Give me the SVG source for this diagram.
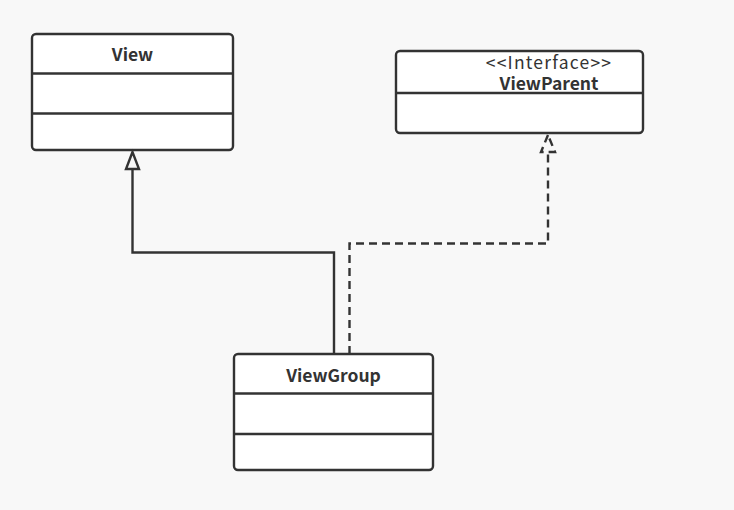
<svg xmlns="http://www.w3.org/2000/svg" width="734" height="510" viewBox="0 0 734 510">
<style>
.box{fill:#fff;stroke:#333;stroke-width:2.4}
.div{stroke:#333;stroke-width:2.4;fill:none}
.t{font-family:"Noto Sans CJK SC","Open Sans",sans-serif;font-size:17.5px;fill:#333;text-anchor:middle}
.b{font-weight:bold}
.c{stroke:#333;stroke-width:2.4;fill:none}
.d{stroke-dasharray:8 5}
</style>
<rect width="734" height="510" fill="#f8f8f8"/>
<g id="View">
<rect class="box" x="32" y="34" width="201" height="116" rx="4"/>
<line class="div" x1="32" y1="73.5" x2="233" y2="73.5"/>
<line class="div" x1="32" y1="113.5" x2="233" y2="113.5"/>
<text class="t b" x="132.5" y="61">View</text>
</g>
<g id="ViewParent">
<rect class="box" x="396" y="51" width="247" height="82" rx="4"/>
<line class="div" x1="396" y1="93" x2="643" y2="93"/>
<text class="t" x="549" y="68.5" font-size="17" letter-spacing="1.2">&lt;&lt;Interface&gt;&gt;</text>
<text class="t b" x="549" y="89.5">ViewParent</text>
</g>
<g id="ViewGroup">
<rect class="box" x="234" y="354" width="199" height="116" rx="4"/>
<line class="div" x1="234" y1="393.5" x2="433" y2="393.5"/>
<line class="div" x1="234" y1="434" x2="433" y2="434"/>
<text class="t b" x="333.5" y="382">ViewGroup</text>
</g>
<g id="connectors">
<path class="c" d="M334,354 V252.5 H132.5 V169"/>
<path class="c" d="M132.5,152 L126,169 H139 Z" fill="#fff"/>
<path class="c d" d="M349.5,354 V243.5 H548 V152"/>
<path class="c d" d="M548,135 L541,152 H555 Z" stroke-dasharray="6 4"/>
</g>
</svg>
